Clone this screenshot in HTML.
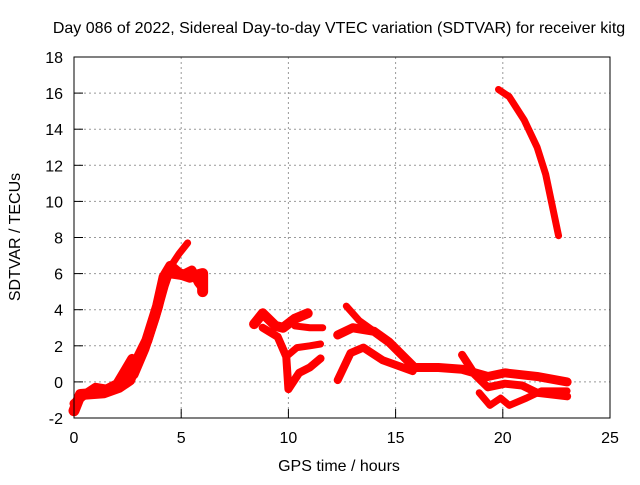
<!DOCTYPE html>
<html><head><meta charset="utf-8"><style>
body{margin:0;background:#fff}
svg text{font-family:"Liberation Sans",sans-serif;font-size:16px;fill:#000}
</style></head><body>
<svg id="c" width="640" height="480">
<text x="339" y="33" text-anchor="middle">Day 086 of 2022, Sidereal Day-to-day VTEC variation (SDTVAR) for receiver kitg</text>
<text x="339" y="471" text-anchor="middle">GPS time / hours</text>
<text transform="translate(20,237) rotate(-90)" text-anchor="middle">SDTVAR / TECUs</text>
<g id="grid"></g><g id="ticks"></g><g id="marks"></g>
<rect x="74" y="57" width="536" height="361" fill="none" stroke="#000" stroke-width="1"/>
</svg>
<script>
const xTicks=[0,5,10,15,20,25];
const yTicks=[-2,0,2,4,6,8,10,12,14,16,18];
const trackA1=[[0,-1.6],[0.3,-0.7],[1.4,-0.6],[2.1,-0.3],[2.6,0.1],[2.9,1.1],[3.4,2.3],[3.9,4.2],[4.2,5.8],[4.5,6.4],[4.9,6.0],[5.4,5.8],[6,6],[6,5]];
const trackA2=[[0,-1.2],[0.5,-0.7],[1,-0.3],[1.5,-0.4],[2,-0.1],[2.4,0.7],[2.7,1.3]];
const trackA3=[[4.4,6.2],[4.9,7.1],[5.3,7.7]];
const trackA4=[[2.8,0.4],[3.3,1.8],[3.8,3.6],[4.2,5.3],[4.4,6.0],[5,5.9],[5.5,6.2],[5.8,5.5],[6,5.2]];
const trackB1=[[8.4,3.2],[8.8,3.8],[9.4,3.1],[9.75,3.0],[10.3,3.5],[10.9,3.8]];
const trackB2=[[8.8,3.0],[9.5,2.5],[9.9,1.4],[10.0,-0.4],[10.5,0.5],[11,0.8],[11.5,1.3]];
const trackB3=[[10.0,1.5],[10.4,1.9],[11,2.0],[11.5,2.1]];
const trackB4=[[10.3,3.1],[11,3.0],[11.6,3.0]];
const trackC1=[[12.3,0.1],[12.9,1.6],[13.5,1.9],[14.4,1.2],[15.8,0.6]];
const trackC2=[[12.3,2.6],[13,3.0],[14,2.8],[14.7,2.2],[15.8,0.9]];
const trackC3=[[12.7,4.2],[13.3,3.4],[14,2.8]];
const trackD1=[[15.8,0.8],[17,0.8],[18.1,0.7],[19.3,0.3],[20.1,0.5],[21.6,0.3],[23,0.0]];
const trackD2=[[18.1,1.5],[18.7,0.4],[19.3,-0.3],[20.1,-0.1],[20.9,-0.2],[21.6,-0.6],[23,-0.8]];
const trackD3=[[18.9,-0.6],[19.4,-1.3],[19.9,-0.9],[20.3,-1.3],[21.1,-0.9],[21.8,-0.5],[23,-0.5]];
const trackE=[[19.8,16.2],[20.3,15.8],[21,14.5],[21.6,13],[22,11.5],[22.6,8.1]];
const X=h=>74+h*536/25, Y=v=>57+(18-v)*361/20;
const ns="http://www.w3.org/2000/svg";
const g=document.getElementById('grid'),t=document.getElementById('ticks'),m=document.getElementById('marks');
function mk(tag,attrs,parent){const e=document.createElementNS(ns,tag);for(const k in attrs)e.setAttribute(k,attrs[k]);parent.appendChild(e);return e;}
xTicks.forEach(v=>{
 if(v>0&&v<25){const l=mk('line',{x1:X(v),x2:X(v),y1:57,y2:418,stroke:'#999','stroke-dasharray':'2,3'},g);
 
 }
 const k=mk('line',{x1:X(v),x2:X(v),y1:418,y2:409,stroke:'#000'},t);
 
 
 const tx=mk('text',{x:X(v),y:443,'text-anchor':'middle'},t);tx.textContent=v;
 
 
});
yTicks.forEach(v=>{
 if(v>-2&&v<18){const l=mk('line',{x1:74,x2:610,y1:Y(v),y2:Y(v),stroke:'#999','stroke-dasharray':'2,3'},g);
 
 }
 const k=mk('line',{x1:74,x2:83,y1:Y(v),y2:Y(v),stroke:'#000'},t);
 
 
 const tx=mk('text',{x:63,y:Y(v)+6,'text-anchor':'end'},t);tx.textContent=v;
 
 
});
const tracks=[[trackA1,11],[trackA2,9],[trackA3,7],[trackA4,9],[trackB1,10],[trackB2,8],[trackB3,7],[trackB4,7],[trackC1,8],[trackC2,9],[trackC3,7],[trackD1,9],[trackD2,8],[trackD3,7],[trackE,7]];
tracks.forEach(([d,w],i)=>{
 const p=mk('polyline',{points:d.map(q=>X(q[0])+','+Y(q[1])).join(' '),fill:'none',stroke:'#f00','stroke-width':w,'stroke-linejoin':'round','stroke-linecap':'round'},m);
 
 
});
</script>
</body></html>
